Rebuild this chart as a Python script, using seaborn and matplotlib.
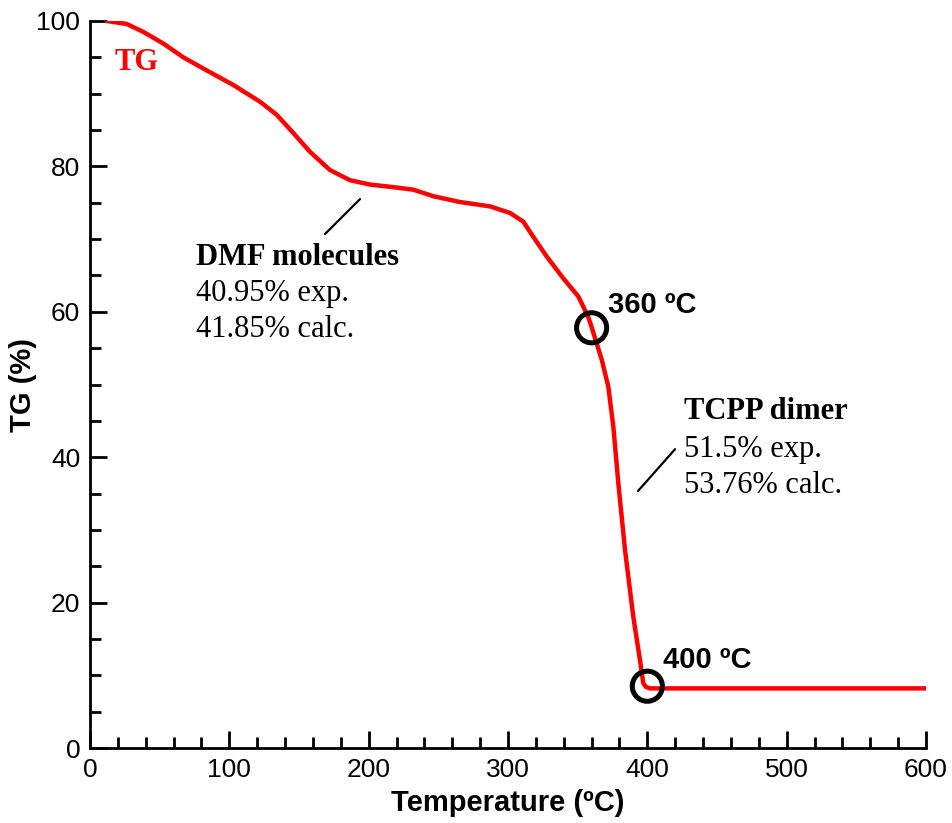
import matplotlib
matplotlib.use("Agg")
import matplotlib.pyplot as plt
from matplotlib.ticker import MultipleLocator
import seaborn as sns
import pandas as pd

temperature = [12.0, 26.3, 38.3, 52.6, 67.0, 83.8, 102.8, 122.0, 134.0, 145.9, 157.9, 172.2,
               186.6, 201.0, 215.3, 232.0, 246.4, 265.5, 287.1, 301.4, 311.0, 318.2, 327.8,
               339.7, 350.5, 357.6, 360.0, 367.3, 372.0, 375.6, 379.2, 384.0, 389.9, 394.7,
               397.1, 399.0, 401.9, 600.0]
tg = [100.0, 99.6, 98.5, 96.9, 95.0, 93.2, 91.2, 88.9, 87.1, 84.6, 82.0, 79.5,
      78.1, 77.5, 77.2, 76.8, 75.9, 75.1, 74.5, 73.6, 72.4, 70.3, 67.6,
      64.6, 62.1, 59.3, 57.9, 53.4, 49.7, 44.2, 36.4, 27.2, 18.1, 12.1,
      8.9, 8.4, 8.2, 8.2]
marker_t = [360, 400]
marker_tg = [57.8, 8.5]
marker_labels = ["360 ºC", "400 ºC"]

sns.set_style("ticks")
plt.rcParams["font.family"] = ["Liberation Sans", "DejaVu Sans"]
plt.rcParams["text.color"] = "black"
plt.rcParams["axes.labelcolor"] = "black"
plt.rcParams["xtick.color"] = "black"
plt.rcParams["ytick.color"] = "black"

fig = plt.figure(figsize=(9.52, 8.23), dpi=100)
ax = fig.add_axes([90/952, 75/823, 836/952, 727/823])

df = pd.DataFrame({"T": temperature, "TG": tg})
sns.lineplot(data=df, x="T", y="TG", ax=ax, color="#ff0000", linewidth=3.2, sort=False,
             estimator=None, solid_joinstyle="round", solid_capstyle="round")
mk = pd.DataFrame({"T": marker_t, "TG": marker_tg})
sns.scatterplot(data=mk, x="T", y="TG", ax=ax, marker="o", s=470, facecolor="none",
                edgecolor="black", linewidth=3.6, zorder=5)

ax.set_xlim(0, 600)
ax.set_ylim(0, 100)
ax.xaxis.set_major_locator(MultipleLocator(100))
ax.xaxis.set_minor_locator(MultipleLocator(20))
ax.yaxis.set_major_locator(MultipleLocator(20))
ax.yaxis.set_minor_locator(MultipleLocator(5))
ax.tick_params(which="major", direction="in", length=12, width=2, labelsize=19,
               labelcolor="black", color="black", pad=7)
ax.tick_params(which="minor", direction="in", length=8, width=2, color="black")
for side in ["top", "right"]:
    ax.spines[side].set_visible(False)
for side in ["left", "bottom"]:
    ax.spines[side].set_linewidth(2)
    ax.spines[side].set_color("black")

ax.set_xlabel("Temperature (ºC)", fontsize=21, fontweight="bold", labelpad=5)
ax.set_ylabel("TG (%)", fontsize=21, fontweight="bold")
ax.yaxis.set_label_coords(-0.063, 0.5)

serif = ["Liberation Serif", "DejaVu Serif"]
ax.text(17.9, 93.2, "TG", color="#ff0000", fontsize=22, fontweight="bold", family=serif)
for lab, dx, dy in zip(marker_labels, [371.6, 411.3], [59.8, 11.0]):
    ax.text(dx, dy, lab, fontsize=21, fontweight="bold", va="baseline")

ax.text(76.1, 66.4, "DMF molecules", fontsize=22, fontweight="bold", family=serif, va="baseline")
ax.text(76.1, 61.5, "40.95% exp.", fontsize=22, family=serif, va="baseline")
ax.text(76.1, 56.6, "41.85% calc.", fontsize=22, family=serif, va="baseline")
ax.plot([168.7, 193.8], [70.7, 75.5], color="black", linewidth=1.6)

ax.text(426, 45.3, "TCPP dimer", fontsize=22, fontweight="bold", family=serif, va="baseline")
ax.text(426, 40.0, "51.5% exp.", fontsize=22, family=serif, va="baseline")
ax.text(426, 35.1, "53.76% calc.", fontsize=22, family=serif, va="baseline")
ax.plot([393.3, 419.9], [35.35, 41.1], color="black", linewidth=1.6)

for c in ax.collections:
    c.set_clip_on(False)

fig.savefig("out.png", dpi=100)
